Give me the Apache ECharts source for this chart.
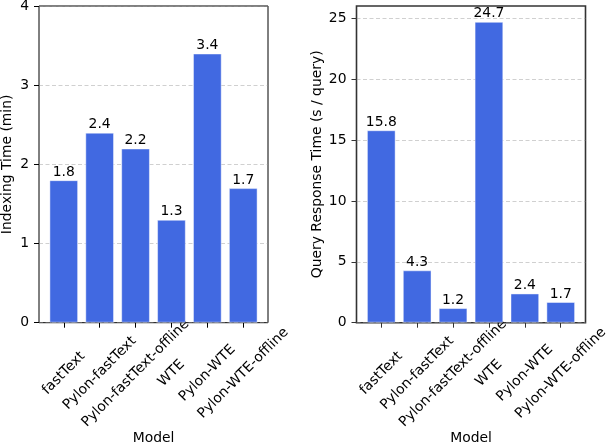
<!DOCTYPE html>
<html><head><meta charset="utf-8">
<script src="https://cdn.jsdelivr.net/npm/echarts@6/dist/echarts.min.js"></script>
<style>html,body{margin:0;padding:0;background:#fff}#c{width:610px;height:444px}</style>
</head><body><div id="c"></div>
<script>
const categories = ['fastText', 'Pylon-fastText', 'Pylon-fastText-offline', 'WTE', 'Pylon-WTE', 'Pylon-WTE-offline'];
const indexingTime = [1.8, 2.4, 2.2, 1.3, 3.4, 1.7];
const queryTime = [15.8, 4.3, 1.2, 24.7, 2.4, 1.7];
const leftTicks = [0, 1, 2, 3, 4];
const rightTicks = [0, 5, 10, 15, 20, 25];

const FONT = 'DejaVu Sans';
const FS = 13.9;
const txt = { fontFamily: FONT, fontSize: FS, color: '#000' };

function frameGrid(left, color, bw) {
  return { left: left, top: 6, width: 229, height: 316.7, show: true, borderColor: color, borderWidth: bw, backgroundColor: 'transparent', containLabel: false, outerBoundsMode: 'none' };
}
function barGrid(left) {
  return { left: left + 229 * 0.19 / 6.38, top: 6, width: 229 * 6 / 6.38, height: 316.7, containLabel: false, outerBoundsMode: 'none' };
}
function catAxis(gi, color) {
  return {
    gridIndex: gi, type: 'category', data: categories,
    name: 'Model', nameLocation: 'middle', nameGap: 109, nameMoveOverlap: false, nameTextStyle: txt,
    axisLine: { show: false },
    axisTick: { show: true, alignWithLabel: true, length: 5, lineStyle: { color: color, width: 1 } },
    axisLabel: Object.assign({ interval: 0, rotate: 45, align: 'center', verticalAlign: 'middle', margin: 50.5, hideOverlap: false }, txt),
    splitLine: { show: false }
  };
}
function valAxis(gi, max, interval, ticks, name, gap, color) {
  return {
    gridIndex: gi, type: 'value', min: 0, max: max, interval: interval,
    name: name, nameLocation: 'middle', nameGap: gap, nameRotate: 90, nameMoveOverlap: false, nameTextStyle: txt,
    axisLine: { show: false },
    axisTick: { show: true, length: 5, customValues: ticks, lineStyle: { color: color, width: 1 } },
    axisLabel: Object.assign({ margin: 10, customValues: ticks }, txt),
    splitLine: { show: true, lineStyle: { type: [4, 2.5], color: 'rgba(150,150,150,0.45)', width: 1 } }
  };
}
function hiddenY(gi, max) { return { gridIndex: gi, type: 'value', min: 0, max: max, show: false, splitLine: { show: false } }; }
function hiddenX(gi) { return { gridIndex: gi, type: 'value', min: 0, max: 1, show: false, splitLine: { show: false } }; }
function barSeries(xi, yi, data) {
  return {
    type: 'bar', xAxisIndex: xi, yAxisIndex: yi, data: data, barWidth: '80%',
    itemStyle: { color: '#4169E1', borderColor: 'rgba(255,255,255,0.45)', borderWidth: 1 },
    label: Object.assign({ show: true, position: 'top', distance: 1, formatter: function (p) { return p.value.toFixed(1); } }, txt)
  };
}

const chart = echarts.init(document.getElementById('c'), null, { renderer: 'canvas' });
chart.setOption({
  animation: false,
  backgroundColor: '#fff',
  grid: [frameGrid(39, '#000', 1), barGrid(39), frameGrid(356.5, '#333', 1.6), barGrid(356.5)],
  xAxis: [hiddenX(0), catAxis(1, '#000'), hiddenX(2), catAxis(3, '#333')],
  yAxis: [
    valAxis(0, 4, 1, leftTicks, 'Indexing Time (min)', 25, '#000'),
    hiddenY(1, 4),
    valAxis(2, 26, 5, rightTicks, 'Query Response Time (s / query)', 32, '#333'),
    hiddenY(3, 26)
  ],
  series: [barSeries(1, 1, indexingTime), barSeries(3, 3, queryTime)]
});
</script></body></html>
